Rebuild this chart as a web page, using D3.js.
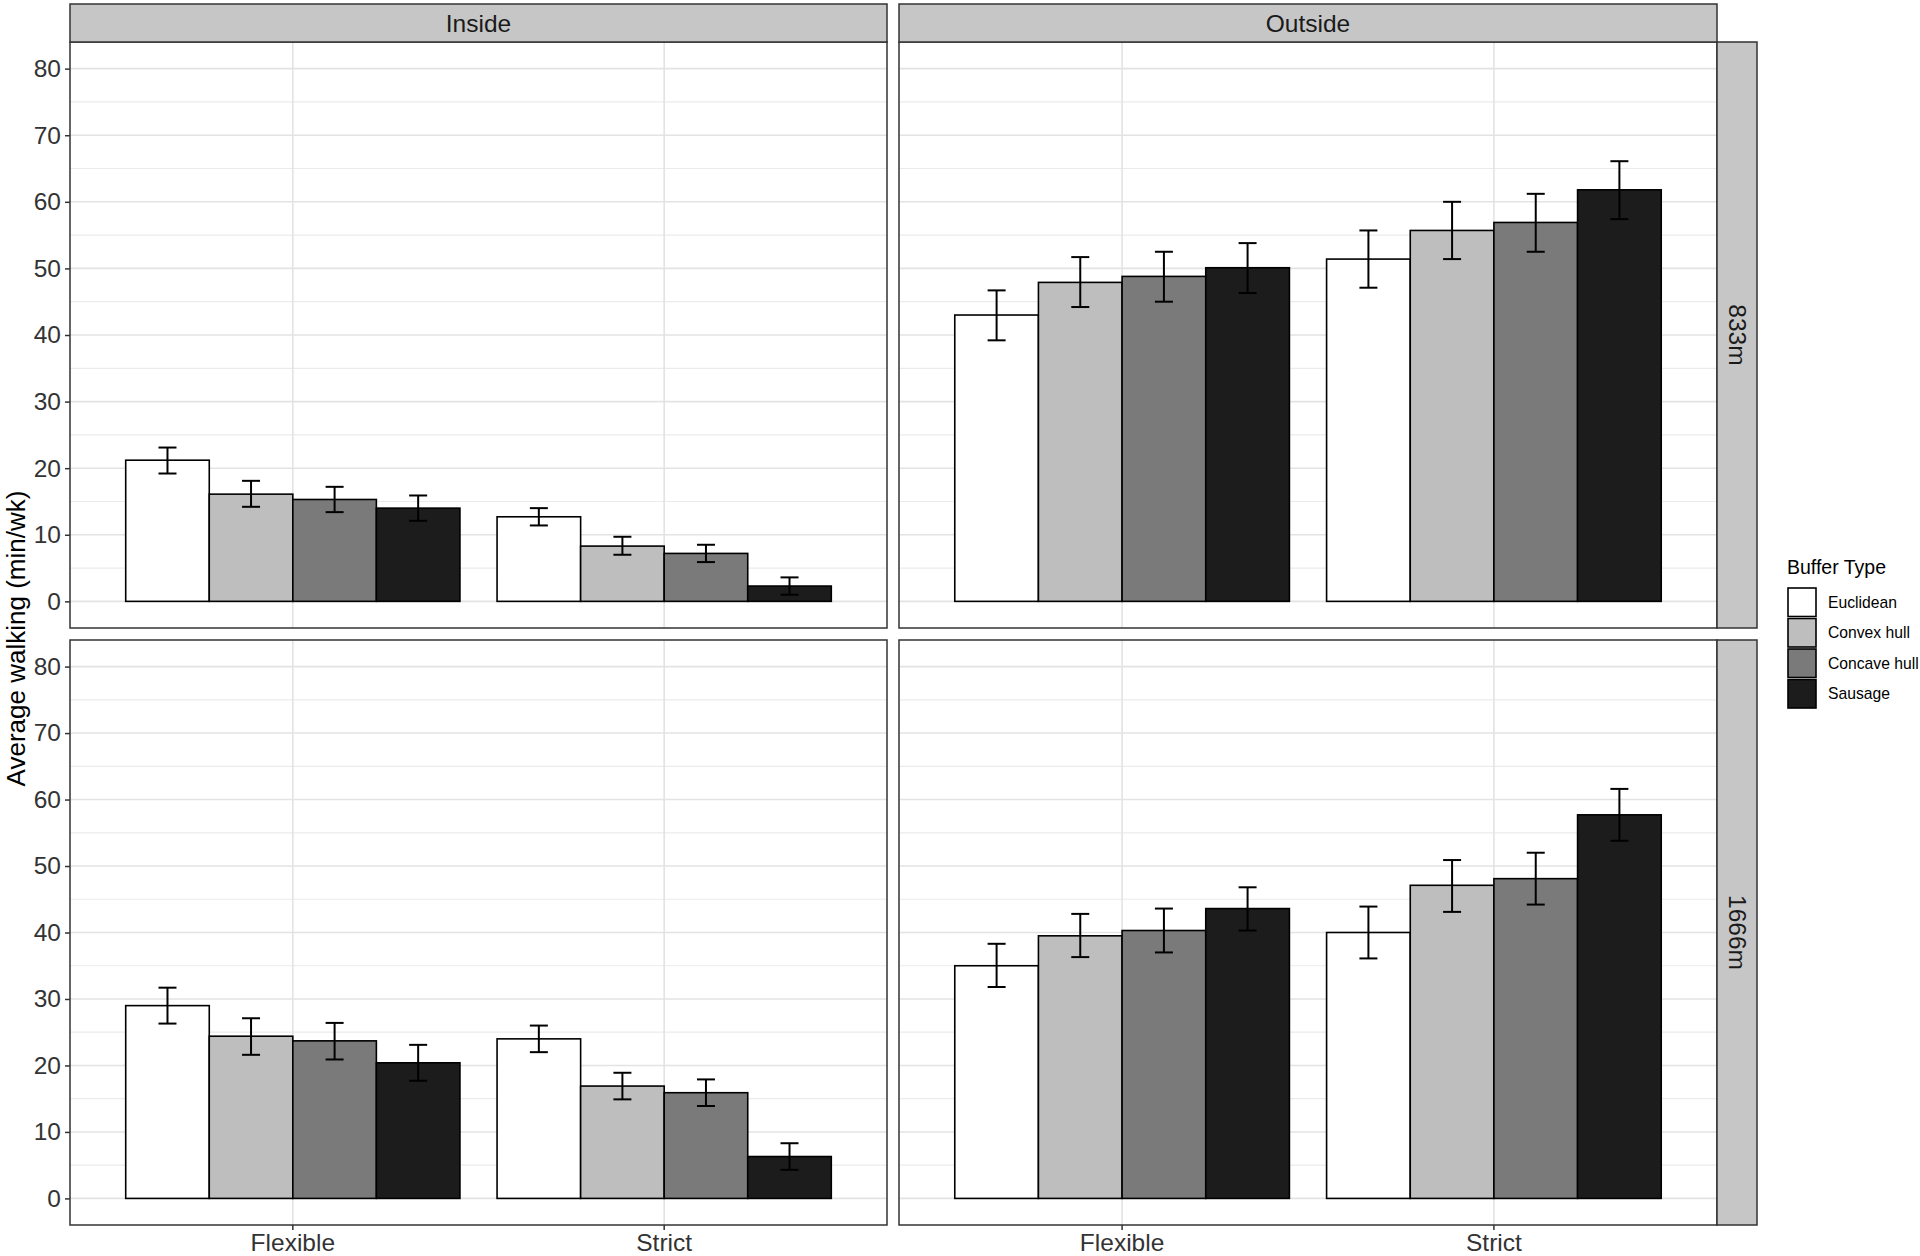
<!DOCTYPE html>
<html>
<head>
<meta charset="utf-8">
<script src="https://cdn.jsdelivr.net/npm/d3@7"></script>
<style>
  html, body { margin: 0; padding: 0; background: #fff; }
  svg { display: block; font-family: "Liberation Sans", Arial, Helvetica, sans-serif; }
</style>
</head>
<body>
<svg id="chart" width="1920" height="1256"></svg>
<script>
// ---------------- DATA ----------------
const colFacets = ["Inside", "Outside"];
const rowFacets = ["833m", "1666m"];
const categories = ["Flexible", "Strict"];
const bufferTypes = ["Euclidean", "Convex hull", "Concave hull", "Sausage"];
const yTicks = [0, 10, 20, 30, 40, 50, 60, 70, 80];
const yMinor = [5, 15, 25, 35, 45, 55, 65, 75];

// values ordered: Flexible (Euclidean, Convex, Concave, Sausage), Strict (same order)
const inside833Mean  = [21.2, 16.1, 15.3, 14.0, 12.7, 8.3, 7.2, 2.3];
const inside833Lo    = [19.2, 14.2, 13.4, 12.1, 11.4, 7.0, 5.9, 1.0];
const inside833Hi    = [23.1, 18.1, 17.2, 15.9, 14.0, 9.7, 8.5, 3.6];

const outside833Mean = [43.0, 47.9, 48.8, 50.1, 51.4, 55.7, 56.9, 61.8];
const outside833Lo   = [39.2, 44.2, 45.0, 46.3, 47.1, 51.4, 52.5, 57.4];
const outside833Hi   = [46.7, 51.7, 52.5, 53.8, 55.7, 60.0, 61.2, 66.1];

const inside1666Mean  = [29.0, 24.4, 23.7, 20.4, 24.0, 16.9, 15.9, 6.3];
const inside1666Lo    = [26.3, 21.6, 20.9, 17.7, 22.0, 14.9, 13.9, 4.3];
const inside1666Hi    = [31.7, 27.1, 26.4, 23.1, 26.0, 18.9, 17.9, 8.3];

const outside1666Mean = [35.0, 39.5, 40.3, 43.6, 40.0, 47.1, 48.1, 57.7];
const outside1666Lo   = [31.8, 36.3, 37.0, 40.3, 36.1, 43.1, 44.2, 53.8];
const outside1666Hi   = [38.3, 42.8, 43.6, 46.8, 43.9, 50.9, 52.0, 61.6];

const panelData = {
  "833m|Inside":   [inside833Mean, inside833Lo, inside833Hi],
  "833m|Outside":  [outside833Mean, outside833Lo, outside833Hi],
  "1666m|Inside":  [inside1666Mean, inside1666Lo, inside1666Hi],
  "1666m|Outside": [outside1666Mean, outside1666Lo, outside1666Hi]
};

// ---------------- LAYOUT ----------------
const svg = d3.select("#chart");
const colX = [[70, 887], [899, 1717]];
const rowY = [[42, 628], [640, 1225]];
const stripTop = 4;
const stripRightX = [1717, 1757];
const dark = "#333333";
const textCol = "#333333";

const fill = d3.scaleOrdinal().domain(bufferTypes)
  .range(["#ffffff", "#bebebe", "#7a7a7a", "#1c1c1c"]);

function makeRows(mean, lo, hi) {
  const out = [];
  categories.forEach((c, ci) => {
    bufferTypes.forEach((b, bi) => {
      const k = ci * bufferTypes.length + bi;
      out.push({ cat: c, type: b, mean: mean[k], lo: lo[k], hi: hi[k] });
    });
  });
  return out;
}

rowFacets.forEach((rf, ri) => {
  colFacets.forEach((cf, ci) => {
    const [x0, x1] = colX[ci];
    const [y0, y1] = rowY[ri];
    const g = svg.append("g");

    const x = d3.scaleBand().domain(categories).range([x0, x1])
      .paddingInner(0.1).paddingOuter(0.15);
    const xi = d3.scaleBand().domain(bufferTypes).range([0, x.bandwidth()]).padding(0);
    const y = d3.scaleLinear().domain([-4, 84]).range([y1, y0]);

    g.append("rect").attr("x", x0).attr("y", y0).attr("width", x1 - x0).attr("height", y1 - y0)
      .attr("fill", "#fff");

    g.selectAll(".minor").data(yMinor).join("line")
      .attr("x1", x0).attr("x2", x1)
      .attr("y1", d => y(d)).attr("y2", d => y(d))
      .attr("stroke", "#ebebeb").attr("stroke-width", 1.2);
    g.selectAll(".major").data(yTicks).join("line")
      .attr("x1", x0).attr("x2", x1)
      .attr("y1", d => y(d)).attr("y2", d => y(d))
      .attr("stroke", "#e3e3e3").attr("stroke-width", 1.6);
    g.selectAll(".vgrid").data(categories).join("line")
      .attr("x1", d => x(d) + x.bandwidth() / 2).attr("x2", d => x(d) + x.bandwidth() / 2)
      .attr("y1", y0).attr("y2", y1)
      .attr("stroke", "#e3e3e3").attr("stroke-width", 1.6);

    const [mean, lo, hi] = panelData[rf + "|" + cf];
    const rows = makeRows(mean, lo, hi);

    g.selectAll(".bar").data(rows).join("rect")
      .attr("x", d => x(d.cat) + xi(d.type))
      .attr("width", xi.bandwidth())
      .attr("y", d => y(d.mean))
      .attr("height", d => y(0) - y(d.mean))
      .attr("fill", d => fill(d.type))
      .attr("stroke", "#000").attr("stroke-width", 1.6);

    const whisk = 9;
    const eb = g.selectAll(".eb").data(rows).join("g")
      .attr("transform", d => `translate(${x(d.cat) + xi(d.type) + xi.bandwidth() / 2},0)`);
    eb.append("line").attr("x1", 0).attr("x2", 0)
      .attr("y1", d => y(d.lo)).attr("y2", d => y(d.hi))
      .attr("stroke", "#000").attr("stroke-width", 2);
    eb.append("line").attr("x1", -whisk).attr("x2", whisk)
      .attr("y1", d => y(d.hi)).attr("y2", d => y(d.hi))
      .attr("stroke", "#000").attr("stroke-width", 2);
    eb.append("line").attr("x1", -whisk).attr("x2", whisk)
      .attr("y1", d => y(d.lo)).attr("y2", d => y(d.lo))
      .attr("stroke", "#000").attr("stroke-width", 2);

    g.append("rect").attr("x", x0).attr("y", y0).attr("width", x1 - x0).attr("height", y1 - y0)
      .attr("fill", "none").attr("stroke", dark).attr("stroke-width", 1.5);

    if (ci === 0) {
      const ax = svg.append("g").attr("transform", `translate(${x0},0)`)
        .call(d3.axisLeft(y).tickValues(yTicks).tickSize(5).tickPadding(4));
      ax.select(".domain").remove();
      ax.selectAll(".tick line").attr("stroke", dark).attr("stroke-width", 1.5);
      ax.selectAll(".tick text").attr("fill", textCol).style("font-size", "24.5px")
        .style("font-family", "'Liberation Sans', Arial, sans-serif");
    }
    if (ri === rowFacets.length - 1) {
      const ax = svg.append("g").attr("transform", `translate(0,${y1})`)
        .call(d3.axisBottom(x).tickSize(5).tickPadding(4));
      ax.select(".domain").remove();
      ax.selectAll(".tick line").attr("stroke", dark).attr("stroke-width", 1.5);
      ax.selectAll(".tick text").attr("fill", textCol).style("font-size", "24.5px")
        .style("font-family", "'Liberation Sans', Arial, sans-serif");
    }
    if (ri === 0) {
      svg.append("rect").attr("x", x0).attr("y", stripTop).attr("width", x1 - x0)
        .attr("height", y0 - stripTop).attr("fill", "#c6c6c6")
        .attr("stroke", dark).attr("stroke-width", 1.5);
      svg.append("text").attr("x", (x0 + x1) / 2).attr("y", (stripTop + y0) / 2)
        .attr("text-anchor", "middle").attr("dominant-baseline", "central")
        .attr("fill", "#1a1a1a").style("font-size", "24.5px").text(cf);
    }
    if (ci === colFacets.length - 1) {
      svg.append("rect").attr("x", stripRightX[0]).attr("y", y0)
        .attr("width", stripRightX[1] - stripRightX[0]).attr("height", y1 - y0)
        .attr("fill", "#c6c6c6").attr("stroke", dark).attr("stroke-width", 1.5);
      const cx = (stripRightX[0] + stripRightX[1]) / 2, cy = (y0 + y1) / 2;
      svg.append("text").attr("transform", `translate(${cx},${cy}) rotate(90)`)
        .attr("text-anchor", "middle").attr("dominant-baseline", "central")
        .attr("fill", "#1a1a1a").style("font-size", "24.5px").text(rf);
    }
  });
});

svg.append("text")
  .attr("transform", `translate(16,${(rowY[0][0] + rowY[1][1]) / 2 + 5}) rotate(-90)`)
  .attr("text-anchor", "middle").attr("dominant-baseline", "central")
  .attr("fill", "#000").style("font-size", "26px")
  .text("Average walking (min/wk)");

const lg = svg.append("g");
const lx = 1787, ly = 587, kw = 30, kh = 30.5;
lg.append("text").attr("x", lx).attr("y", 574).attr("fill", "#000")
  .style("font-size", "19.5px").text("Buffer Type");
bufferTypes.forEach((b, i) => {
  lg.append("rect").attr("x", lx).attr("y", ly + i * kh).attr("width", kw).attr("height", kh)
    .attr("fill", "#fff");
  lg.append("rect").attr("x", lx + 1).attr("y", ly + i * kh + 1).attr("width", kw - 2).attr("height", kh - 2)
    .attr("fill", fill(b)).attr("stroke", "#000").attr("stroke-width", 1.6);
  lg.append("text").attr("x", lx + 41).attr("y", ly + i * kh + kh / 2)
    .attr("dominant-baseline", "central").attr("fill", "#000")
    .style("font-size", "15.7px").text(b);
});
</script>
</body>
</html>
